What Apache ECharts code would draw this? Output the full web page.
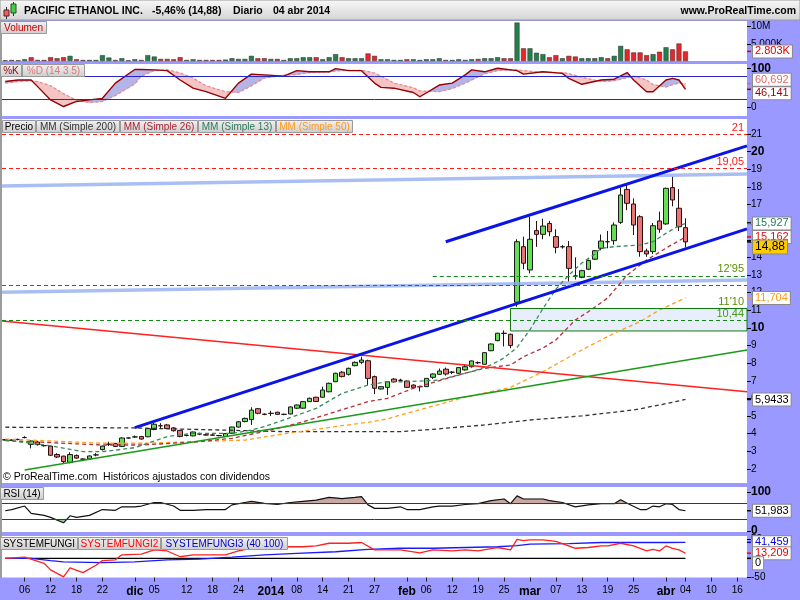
<!DOCTYPE html>
<html><head><meta charset="utf-8">
<script src="https://cdn.jsdelivr.net/npm/echarts@6.0.0/dist/echarts.min.js"></script>
<style>html,body{margin:0;padding:0;background:#9999ff;}#chart{width:800px;height:600px;}</style>
</head><body><div id="chart"></div>
<script>
// ---------------- DATA ----------------
const dates = [
'2013-11-01','2013-11-04','2013-11-05','2013-11-06','2013-11-07','2013-11-08','2013-11-11','2013-11-12','2013-11-13','2013-11-14','2013-11-15','2013-11-18','2013-11-19','2013-11-20','2013-11-21','2013-11-22','2013-11-25','2013-11-26','2013-11-27','2013-11-29',
'2013-12-02','2013-12-03','2013-12-04','2013-12-05','2013-12-06','2013-12-09','2013-12-10','2013-12-11','2013-12-12','2013-12-13','2013-12-16','2013-12-17','2013-12-18','2013-12-19','2013-12-20','2013-12-23','2013-12-24','2013-12-26','2013-12-27','2013-12-30','2013-12-31',
'2014-01-02','2014-01-03','2014-01-06','2014-01-07','2014-01-08','2014-01-09','2014-01-10','2014-01-13','2014-01-14','2014-01-15','2014-01-16','2014-01-17','2014-01-21','2014-01-22','2014-01-23','2014-01-24','2014-01-27','2014-01-28','2014-01-29','2014-01-30','2014-01-31',
'2014-02-03','2014-02-04','2014-02-05','2014-02-06','2014-02-07','2014-02-10','2014-02-11','2014-02-12','2014-02-13','2014-02-14','2014-02-18','2014-02-19','2014-02-20','2014-02-21','2014-02-24','2014-02-25','2014-02-26','2014-02-27','2014-02-28',
'2014-03-03','2014-03-04','2014-03-05','2014-03-06','2014-03-07','2014-03-10','2014-03-11','2014-03-12','2014-03-13','2014-03-14','2014-03-17','2014-03-18','2014-03-19','2014-03-20','2014-03-21','2014-03-24','2014-03-25','2014-03-26','2014-03-27','2014-03-28','2014-03-31',
'2014-04-01','2014-04-02','2014-04-03','2014-04-04','2014-04-07','2014-04-08','2014-04-09','2014-04-10','2014-04-11','2014-04-14','2014-04-15','2014-04-16','2014-04-17'];

const open = [3.66,3.63,3.67,3.78,3.40,3.53,3.33,3.30,2.82,2.73,2.38,2.77,2.56,2.57,2.80,3.10,3.40,3.45,3.28,3.76,
3.82,3.84,3.83,4.24,4.45,4.50,4.33,4.19,3.90,3.88,3.98,3.94,3.93,3.90,3.84,4.03,4.38,4.69,4.80,5.42,5.11,
5.15,5.22,5.10,5.12,5.45,5.45,5.82,6.07,6.07,6.38,6.95,7.49,7.37,7.86,8.05,8.14,7.24,6.54,6.63,7.10,7.03,
6.99,6.76,6.67,6.67,7.20,7.37,7.66,7.49,7.43,7.62,7.80,8.03,7.94,8.71,9.28,9.70,9.64,11.46,14.61,
13.29,15.52,15.31,15.93,15.18,14.60,14.61,12.95,12.87,13.33,13.90,14.52,14.89,14.95,15.99,17.86,17.03,16.31,14.37,14.33,16.07,
15.90,17.96,16.79,15.69];
const close = [3.65,3.64,3.68,3.79,3.59,3.38,3.32,2.78,2.68,2.42,2.82,2.62,2.56,2.74,2.80,3.30,3.41,3.28,3.76,3.76,
3.82,3.70,4.29,4.54,4.45,4.29,4.17,3.85,3.90,4.10,3.99,3.93,3.92,3.89,4.01,4.38,4.68,4.87,5.34,5.16,5.10,
5.16,5.10,5.10,5.52,5.63,5.82,6.01,5.83,6.48,6.86,7.43,7.24,7.71,8.05,8.18,7.14,6.58,6.67,6.95,6.95,7.03,
6.63,6.63,6.67,7.14,7.39,7.56,7.39,7.49,7.75,7.80,8.13,8.03,8.60,9.09,9.70,9.69,9.00,14.89,13.67,
15.03,15.31,15.78,15.46,14.57,14.61,13.38,12.95,13.25,13.82,14.38,14.93,14.89,15.84,17.54,17.07,15.84,14.33,14.20,15.80,15.60,
17.92,17.26,15.74,14.88];
const low = [3.62,3.60,3.63,3.74,3.17,3.33,3.27,2.75,2.62,2.33,2.32,2.58,2.52,2.55,2.72,3.05,3.30,3.25,3.26,3.72,
3.76,3.66,3.80,4.20,4.32,4.27,4.12,3.80,3.85,3.85,3.92,3.90,3.88,3.86,3.82,4.00,4.35,4.65,4.50,5.10,5.05,
5.00,5.07,5.05,5.10,5.40,5.42,5.80,5.80,6.05,6.35,6.93,7.20,7.30,7.83,7.95,6.76,6.25,6.50,6.20,6.90,6.95,
6.60,6.55,6.40,6.65,7.10,7.35,7.30,7.38,7.40,7.58,7.75,7.95,7.92,8.68,9.25,8.95,8.85,11.20,13.33,
13.10,14.60,15.03,15.20,14.24,14.50,12.62,12.75,12.82,13.28,13.85,14.40,14.52,14.72,15.90,16.68,15.27,14.04,14.04,14.20,15.40,
15.85,16.90,15.50,14.57];
const high = [3.70,3.68,3.72,3.86,3.62,3.60,3.38,3.32,2.90,2.75,2.95,2.82,2.60,2.77,2.90,3.33,3.55,3.48,3.80,3.80,
3.90,3.88,4.31,4.65,4.60,4.56,4.38,4.22,3.95,4.12,4.06,3.97,3.97,3.93,4.04,4.40,4.72,4.92,5.50,5.45,5.15,
5.30,5.25,5.14,5.55,5.66,5.85,6.05,6.10,6.67,6.90,7.46,7.55,7.75,8.10,8.37,8.20,7.30,6.70,6.98,7.15,7.12,
7.02,6.80,6.72,7.16,7.42,7.70,7.75,7.55,7.78,7.95,8.15,8.10,8.62,9.12,9.73,9.86,9.68,15.03,15.18,
16.31,16.07,16.20,16.07,15.60,14.70,14.93,14.00,13.30,13.88,14.42,15.30,15.50,15.99,17.96,18.11,17.35,16.40,14.50,15.95,16.60,
17.96,18.58,17.87,16.22];
// volume in millions
const volume = [0.2,0.3,0.2,0.5,1.1,0.3,0.3,1.1,0.8,1.1,1.5,0.5,0.3,0.3,0.3,1.7,1.0,0.3,0.8,0.2,
0.5,0.3,1.7,1.3,0.6,0.6,0.5,1.1,0.3,0.5,0.3,0.3,0.3,0.3,0.4,0.8,0.6,0.6,1.5,0.8,0.8,
0.6,0.6,0.3,0.8,0.8,1.1,1.1,1.1,0.5,1.1,2.0,1.1,0.8,0.8,0.8,2.2,1.5,0.5,0.5,0.3,0.3,
0.5,0.5,0.3,0.5,0.5,0.8,0.3,0.3,0.5,0.3,0.5,0.6,0.8,0.8,1.1,0.8,0.8,11.2,3.7,
3.7,2.4,2.0,1.1,1.7,0.8,1.5,1.3,0.8,0.8,0.8,1.1,0.8,1.5,4.4,3.4,2.5,2.5,1.7,2.0,2.7,
4.0,3.4,5.1,2.803];

// Sparse readings: x = trading-day index counted from 6 Nov 2013 (=0)
const ma200X = [-3,17,40,58,63,71,78,86,94,98,102];
const ma200V = [4.37,4.33,4.12,4.12,4.25,4.50,4.78,5.01,5.35,5.63,5.9433];
const ma26X = [-3,12,18,27,32,38,43,48,53,56,60,67,71,75,77,80,82,85,87,90,93,96,99,102];
const ma26V = [3.61,3.36,3.36,3.55,3.74,4.21,4.68,5.25,5.82,6.01,6.58,7.33,7.71,7.90,8.37,8.86,9.32,10.45,10.92,11.70,13.0,13.85,14.53,15.162];
const ma13X = [-3,4,9,12,17,22,26,32,35,37,40,45,49,53,56,59,64,69,72,74,76,78,80,82,84,86,88,89,91,95,97,99,101,102];
const ma13V = [3.64,3.32,2.98,2.98,3.21,3.84,4.02,4.02,4.21,4.40,4.78,5.44,6.29,6.76,6.95,6.95,7.05,7.52,7.9,8.3,8.9,9.9,11.1,12.2,13.0,13.68,14.2,14.52,14.61,14.71,14.89,15.37,15.8,15.927];
const ma50X = [-3,1,12,19,26,34,40,46,53,56,58,68,75,80,86,91,95,98,102];
const ma50V = [3.70,3.64,3.46,3.46,3.55,3.64,3.99,4.31,4.65,4.84,5.06,6.07,6.63,7.52,8.75,9.70,10.36,11.02,11.704];

const stochX = [-3,-1,1,2,4,6,8,10,12,14,17,18,20,22,24,26,28,31,33,35,37,40,42,44,47,48,50,52,54,55,57,60,61,64,66,68,69,71,73,76,77,80,83,84,86,89,91,93,94,96,97,99,100,101,102];
const stochK = [66,70,70,53,19,2,15,19,23,62,97,97,96,94,70,49,40,23,62,85,83,80,94,91,91,99,94,94,62,51,49,38,27,57,62,83,96,91,100,94,85,91,87,74,59,70,72,89,70,40,40,70,74,70,46.141];
const stochD = [62,66,68,66,55,35,18,12,15,30,60,80,94,96,88,75,55,40,38,55,75,82,84,89,91,93,95,95,88,80,62,50,42,40,48,62,70,86,94,96,94,90,89,86,77,66,68,76,80,70,58,52,58,62,60.692];

const rsiX = [-3,-2,0,1,3,4,6,7,8,10,12,14,15,17,18,20,21,23,24,26,28,31,32,34,35,37,39,41,43,45,47,49,51,52,53,54,56,58,59,61,63,64,66,68,70,72,74,75,76,77,78,80,81,83,85,87,89,91,92,93,95,96,97,98,99,100,101,102];
const rsiV = [52,55,64,45,40,35,21,39,35,40,55,53,62,62,64,73,73,64,53,53,55,55,67,73,76,71,68,73,76,79,86,83,86,88,67,58,58,62,55,55,62,64,64,68,70,78,82,70,90,82,82,82,78,73,62,67,70,70,80,71,55,55,64,62,70,68,55,51.983];

const fungi1X = [-3,102];
const fungi1V = [0,0];
const fungi2X = [-3,0,3,4,6,7,9,11,12,14,15,18,20,22,24,26,31,33,35,37,40,43,45,47,50,52,54,58,61,63,66,68,70,72,73,75,76,77,78,80,82,83,85,87,89,90,92,94,96,97,98,99,100,101,102];
const fungi2V = [0,3,-13,-30,-48,-25,-37,-18,-6,-4,9,11,22,19,4,9,9,19,26,23,30,30,32,39,39,41,22,22,14,22,19,22,19,25,28,22,49,46,48,48,44,38,26,28,32,32,39,32,19,23,19,32,26,22,13.209];
const fungi3X = [-3,1,4,6,12,17,22,27,32,37,42,48,53,58,63,68,73,76,78,84,89,94,99,102];
const fungi3V = [0,0,-6,-9,-11,-9,-4,-2,3,9,13,17,23,26,26,28,30,33,37,38,41,41,41,41.459];

// drawn lines: [dayIndex, price]
const channelLow = [[17,4.35],[111.5,15.62]];
const channelHigh = [[65,14.89],[111.5,20.33]];
const redTrend = [[-3.5,10.40],[111.5,6.38]];
const greenTrend = [[0,1.94],[111.5,8.75]];
const paleLine1 = [[-3.5,18.05],[111.5,18.73]];
const paleLine2 = [[-3.5,12.02],[111.5,12.72]];
const levelValues = [21, 19.05, 12.95, 12.44, 10.44, 11.10];
const levelTexts = ['21','19,05',"12'95",'','10,44',"11'10"];
const levelStarts = [-3.5,-3.5,63,-3.5,-3.5,75];
const zone = {from:75, top:11.10, bottom:9.83};
const rsiBands = [30, 70];
const stochBands = [20, 80];

const priceTicks = [2,3,4,5,6,7,8,9,10,11,12,13,14,15,16,17,18,19,20,21];
const volTicks = [5,10];
const xTickLabels = [['2013-11-06','06'],['2013-11-12','12'],['2013-11-18','18'],['2013-11-22','22'],['2013-12-02','dic'],['2013-12-05','05'],['2013-12-12','12'],['2013-12-18','18'],['2013-12-24','24'],['2014-01-02','2014'],['2014-01-08','08'],['2014-01-14','14'],['2014-01-21','21'],['2014-01-27','27'],['2014-02-03','feb'],['2014-02-06','06'],['2014-02-12','12'],['2014-02-19','19'],['2014-02-25','25'],['2014-03-03','mar'],['2014-03-07','07'],['2014-03-13','13'],['2014-03-19','19'],['2014-03-25','25'],['2014-04-01','abr'],['2014-04-04','04'],['2014-04-10','10'],['2014-04-16','16']];
const monthLabels = ['dic','2014','feb','mar','abr'];

// ---------------- CHART ----------------
const FONT = "'Liberation Sans', Arial, sans-serif";
const N = dates.length;
const DAY0 = dates.indexOf('2013-11-06');
const XMIN = -DAY0 - 0.5, XMAX = N - DAY0 - 0.5;
const labelMap = Object.fromEntries(xTickLabels);
const pairs = (xs, vs) => xs.map((x, j) => [x, vs[j]]);
const comma = v => String(v).replace('.', ',');

const chart = echarts.init(document.getElementById('chart'), null, {renderer: 'canvas'});
const gridBase = {left: 2, right: 53, show: true, backgroundColor: '#ffffff', borderWidth: 0};
const grids = [
  Object.assign({top: 21, height: 40}, gridBase),
  Object.assign({top: 64, height: 52}, gridBase),
  Object.assign({top: 119, height: 364}, gridBase),
  Object.assign({top: 487, height: 45}, gridBase),
  Object.assign({top: 536, height: 41.6}, gridBase)
];
const valX = gi => ({type: 'value', gridIndex: gi, min: XMIN, max: XMAX, show: false, axisLine: {onZero: false}});
function yAx(gi, min, max, ticks, fmt) {
  return {type: 'value', gridIndex: gi, position: 'right', min: min, max: max,
    splitLine: {show: false}, axisLine: {show: false, onZero: false},
    axisTick: {show: true, customValues: ticks, length: 4, lineStyle: {color: '#000', width: 1}},
    axisLabel: {customValues: ticks, margin: 4, color: '#000', fontFamily: FONT, fontSize: 10, formatter: fmt,
      rich: {b: {fontFamily: FONT, fontSize: 12, fontWeight: 'bold', color: '#000'}}}};
}
const lineS = (name, xi, yi, data, color, width, type, extra) => Object.assign({
  name: name, type: 'line', xAxisIndex: xi, yAxisIndex: yi, data: data, symbol: 'none', silent: true,
  lineStyle: {color: color, width: width, type: type || 'solid'}, animation: false}, extra || {});

// band fill between two sampled series a and b (same x samples); colour by sign of a-b
function bandSeries(xi, yi, xs, a, b, posColor, negColor) {
  return {type: 'custom', xAxisIndex: xi, yAxisIndex: yi, silent: true, animation: false,
    data: xs.slice(0, -1).map((x, j) => [x, a[j], j]),
    encode: {x: 0, y: 1},
    renderItem: (params, api) => {
      const j = api.value(2);
      const x0 = xs[j], x1 = xs[j + 1], a0 = a[j], a1 = a[j + 1], b0 = b[j], b1 = b[j + 1];
      const d0 = a0 - b0, d1 = a1 - b1;
      const parts = [];
      if (d0 * d1 < 0) {
        const t = d0 / (d0 - d1), xc = x0 + (x1 - x0) * t, yc = a0 + (a1 - a0) * t;
        parts.push([[[x0, a0], [xc, yc], [x0, b0]], d0 > 0]);
        parts.push([[[xc, yc], [x1, a1], [x1, b1]], d1 > 0]);
      } else {
        parts.push([[[x0, a0], [x1, a1], [x1, b1], [x0, b0]], (d0 + d1) > 0]);
      }
      const children = [];
      parts.forEach(p => {
        const col = p[1] ? posColor : negColor;
        if (!col) return;
        children.push({type: 'polygon', shape: {points: p[0].map(pt => api.coord(pt))},
          style: {fill: col, stroke: col, lineWidth: 0.6}});
      });
      return {type: 'group', children: children};
    }};
}

const candleData = open.map((o, k) => [o, close[k], low[k], high[k]]);
const volData = volume.map((v, k) => ({value: v, itemStyle: {color: (k > 0 && close[k] < close[k - 1]) ? '#e8262a' : '#23804a'}}));
const rsiHiRef = rsiX.map(() => rsiBands[1]);
const rsiLoRef = rsiX.map(() => rsiBands[0]);

const levelColors = ['#ff1a1a', '#ff1a1a', '#118811', '#118811', '#118811', '#117711'];
const levelLabelColors = ['#ff1a1a', '#ff1a1a', '#5c8f00', '', '#4a9a1a', '#5c8f00'];
const levelTypes = [[4, 3], [4, 3], [4, 3], [4, 3], [4, 3], 'solid'];

const option = {
  animation: false,
  backgroundColor: '#9999ff',
  grid: grids,
  xAxis: [
    {type: 'category', gridIndex: 0, data: dates, show: false},
    {type: 'category', gridIndex: 2, data: dates, show: false},
    valX(1), valX(2), valX(3), valX(4),
    {type: 'category', gridIndex: 4, data: dates, position: 'bottom',
      axisLine: {show: false, onZero: false}, splitLine: {show: false},
      axisTick: {show: true, alignWithLabel: true, length: 4, interval: (i, v) => labelMap.hasOwnProperty(v), lineStyle: {color: '#222'}},
      axisLabel: {interval: (i, v) => labelMap.hasOwnProperty(v), margin: 8, color: '#000', fontFamily: FONT, fontSize: 10,
        formatter: v => monthLabels.includes(labelMap[v]) ? '{b|' + labelMap[v] + '}' : (labelMap[v] || ''),
        rich: {b: {fontFamily: FONT, fontSize: 12, fontWeight: 'bold', color: '#000'}}}}
  ],
  yAxis: [
    yAx(0, 0, 11.66, volTicks, v => v >= 10 ? v + 'M' : (v * 1000).toLocaleString('de-DE') + 'K'),
    yAx(1, -22.3, 111.0, [0, 100], v => v === 100 ? '{b|100}' : String(v)),
    yAx(2, 1.2059, 21.852, priceTicks, v => (v === 10 || v === 20) ? '{b|' + v + '}' : String(v)),
    yAx(3, -2.56, 112.8, [0, 100], v => '{b|' + v + '}'),
    yAx(4, -50, 57.8, [-50, 50], v => String(v))
  ],
  series: [
    // volume
    {name: 'Volumen', type: 'bar', xAxisIndex: 0, yAxisIndex: 0, data: volData, barWidth: 5, silent: true,
      itemStyle: {borderColor: '#2a2a2a', borderWidth: 0.5}},
    // stochastic
    bandSeries(2, 1, stochX, stochK, stochD, '#b4b4e6', '#f5c4c4'),
    lineS('%D', 2, 1, pairs(stochX, stochD), '#e38a8a', 1.2, [3, 2]),
    lineS('%K', 2, 1, pairs(stochX, stochK), '#990000', 1.4, 'solid', {
      markLine: {silent: true, symbol: 'none', animation: false, label: {show: false},
        lineStyle: {color: '#2626c8', width: 1, type: 'solid'}, data: stochBands.map(b => ({yAxis: b}))}}),
    // price: zone + levels
    lineS('pale1', 3, 2, paleLine1, 'rgba(140,170,240,0.75)', 3.5, 'solid', {
      markArea: {silent: true, itemStyle: {color: '#e8eefc', borderColor: '#117711', borderWidth: 1},
        data: [[{coord: [zone.from, zone.top]}, {coord: [XMAX, zone.bottom]}]]},
      markLine: {silent: true, symbol: 'none', animation: false,
        data: levelValues.map((v, j) => [
          {coord: [levelStarts[j], v], lineStyle: {color: levelColors[j], width: 1, type: levelTypes[j]},
            label: {show: levelTexts[j] !== '', formatter: levelTexts[j], position: 'insideEndTop', distance: [3, 1],
              color: levelLabelColors[j], fontFamily: FONT, fontSize: 11}},
          {coord: [XMAX, v]}])}}),
    lineS('pale2', 3, 2, paleLine2, 'rgba(140,170,240,0.75)', 3.5),
    lineS('MM (Simple 200)', 3, 2, pairs(ma200X, ma200V), '#333333', 1.3, [4, 3]),
    lineS('MM (Simple 50)', 3, 2, pairs(ma50X, ma50V), '#ff9f1a', 1.3, [4, 3]),
    lineS('MM (Simple 26)', 3, 2, pairs(ma26X, ma26V), '#b0303a', 1.3, [4, 3]),
    lineS('MM (Simple 13)', 3, 2, pairs(ma13X, ma13V), '#3a8a5e', 1.3, [4, 3]),
    lineS('redTrend', 3, 2, redTrend, '#ff2020', 1.5),
    lineS('greenTrend', 3, 2, greenTrend, '#1a9a1a', 1.5),
    lineS('channelLow', 3, 2, channelLow, '#0a14e6', 3),
    lineS('channelHigh', 3, 2, channelHigh, '#0a14e6', 3),
    {name: 'Precio', type: 'candlestick', xAxisIndex: 1, yAxisIndex: 2, data: candleData, barWidth: 5, silent: true,
      itemStyle: {color: '#66dd55', color0: '#e87575', borderColor: '#1a1a1a', borderColor0: '#2a1010', borderWidth: 1}},
    // RSI
    bandSeries(4, 3, rsiX, rsiV, rsiHiRef, '#c9a8a4', null),
    bandSeries(4, 3, rsiX, rsiV, rsiLoRef, null, '#9fcf9f'),
    lineS('RSI', 4, 3, pairs(rsiX, rsiV), '#111111', 1.2, 'solid', {
      markLine: {silent: true, symbol: 'none', animation: false, label: {show: false},
        lineStyle: {color: '#2626c8', width: 1, type: 'solid'}, data: rsiBands.map(b => ({yAxis: b}))}}),
    // SYSTEMFUNGI
    lineS('SYSTEMFUNGI', 5, 4, pairs(fungi1X, fungi1V), '#000000', 1.3),
    lineS('SYSTEMFUNGI3', 5, 4, pairs(fungi3X, fungi3V), '#1a1aff', 1.3),
    lineS('SYSTEMFUNGI2', 5, 4, pairs(fungi2X, fungi2V), '#ff2020', 1.3)
  ]
};
chart.setOption(option);

// ---------------- GRAPHIC OVERLAYS ----------------
const py = (yi, v) => chart.convertToPixel({yAxisIndex: yi}, v);
const gfx = [];
const grad = (a, b) => ({type: 'linear', x: 0, y: 0, x2: 0, y2: 1, colorStops: [{offset: 0, color: a}, {offset: 1, color: b}]});
// title bar
gfx.push({type: 'rect', shape: {x: 0, y: 0, width: 800, height: 20}, style: {fill: grad('#f8f8f8', '#d4d4d4'), stroke: '#9a9a9a', lineWidth: 1}, z: 100, silent: true});
gfx.push({type: 'rect', shape: {x: 0, y: 20, width: 2, height: 558}, style: {fill: '#9c9c9c'}, z: 100, silent: true});
// candle icon
gfx.push({type: 'line', shape: {x1: 6.5, y1: 7, x2: 6.5, y2: 19}, style: {stroke: '#333', lineWidth: 1}, z: 101});
gfx.push({type: 'rect', shape: {x: 4, y: 10, width: 5, height: 6}, style: {fill: '#e86060', stroke: '#552222', lineWidth: 1}, z: 102});
gfx.push({type: 'line', shape: {x1: 13.5, y1: 2, x2: 13.5, y2: 16}, style: {stroke: '#333', lineWidth: 1}, z: 101});
gfx.push({type: 'rect', shape: {x: 11, y: 4, width: 5, height: 9}, style: {fill: '#44cc44', stroke: '#225522', lineWidth: 1}, z: 102});
const last = close.length - 1;
const pct = ((close[last] / close[last - 1] - 1) * 100).toFixed(2).replace('.', ',');
const titleTxt = [[24, 'PACIFIC ETHANOL INC.'], [152, pct + '% (' + comma(close[last]) + ')'], [233, 'Diario'], [273, '04 abr 2014']];
titleTxt.forEach(t => gfx.push({type: 'text', x: t[0], y: 11, style: {text: t[1], fill: '#000', font: 'bold 10.5px ' + FONT, verticalAlign: 'middle'}, z: 103}));
gfx.push({type: 'text', x: 796, y: 11, style: {text: 'www.ProRealTime.com', fill: '#000', font: 'bold 10.5px ' + FONT, verticalAlign: 'middle', align: 'right'}, z: 103});

// header buttons
function hdr(x, y, w, h, text, color) {
  gfx.push({type: 'rect', shape: {x: x + 0.5, y: y + 0.5, width: w - 1, height: h - 1}, style: {fill: grad('#f2f2f2', '#cdcdcd'), stroke: '#9a9a9a', lineWidth: 1}, z: 110});
  gfx.push({type: 'text', x: x + w / 2, y: y + h / 2 + 0.5, style: {text: text, fill: color, font: '10px ' + FONT, align: 'center', verticalAlign: 'middle'}, z: 111});
}
hdr(0, 21, 47, 13, 'Volumen', '#cc0000');
hdr(0, 64, 22, 13, '%K', '#990000');
hdr(22, 64, 63, 13, '%D (14 3 5)', '#e07878');
hdr(2, 120, 34, 13, 'Precio', '#000000');
hdr(36, 120, 84, 13, 'MM (Simple 200)', '#333333');
hdr(120, 120, 78, 13, 'MM (Simple 26)', '#aa2233');
hdr(198, 120, 78, 13, 'MM (Simple 13)', '#2a7a5a');
hdr(276, 120, 77, 13, 'MM (Simple 50)', '#ff9a1a');
hdr(0, 487, 44, 13, 'RSI (14)', '#000000');
hdr(0, 537, 78, 13, 'SYSTEMFUNGI', '#000000');
hdr(78, 537, 83, 13, 'SYSTEMFUNGI2', '#ff0000');
hdr(161, 537, 127, 13, 'SYSTEMFUNGI3 (40 100)', '#0000cc');

// copyright
gfx.push({type: 'text', x: 3, y: 477, style: {text: '\u00A9 ProRealTime.com  Hist\u00F3ricos ajustados con dividendos', fill: '#000', font: '10.5px ' + FONT, verticalAlign: 'middle'}, z: 105});

// value boxes on the right axis
function vbox(yi, v, text, color, bg, dy, bold, size) {
  const y = py(yi, v);
  gfx.push({type: 'line', shape: {x1: 747, y1: y, x2: 751, y2: y}, style: {stroke: color, lineWidth: 1.5}, z: 120});
  gfx.push({type: 'text', x: 753, y: y + (dy || 0), style: {text: text, fill: color, font: (bold ? 'bold ' : '') + (size || 11) + 'px ' + FONT,
    verticalAlign: 'middle', backgroundColor: bg, borderColor: '#8a8a8a', borderWidth: 1, padding: [1, 2, 0, 2]}, z: 121});
}
const lastOf = a => a[a.length - 1];
vbox(0, lastOf(volume), (Math.round(lastOf(volume) * 1000)).toLocaleString('de-DE') + 'K', '#e00000', '#ffffff', 0);
vbox(1, lastOf(stochD), comma(lastOf(stochD)), '#e06a6a', '#ffffff', -4);
vbox(1, lastOf(stochK), comma(lastOf(stochK)), '#990000', '#ffffff', 4);
vbox(2, lastOf(ma13V), comma(lastOf(ma13V)), '#2a7a5a', '#ffffff', 0);
vbox(2, lastOf(ma26V), comma(lastOf(ma26V)), '#dd1111', '#ffffff', 0);
vbox(2, close[last], comma(close[last]), '#000000', '#ffcc00', 5, false, 12);
vbox(2, lastOf(ma50V), comma(lastOf(ma50V)), '#ff9a1a', '#ffffff', 0);
vbox(2, lastOf(ma200V), comma(lastOf(ma200V)), '#000000', '#ffffff', 0);
vbox(3, lastOf(rsiV), comma(lastOf(rsiV)), '#000000', '#ffffff', 0);
vbox(4, lastOf(fungi3V), comma(lastOf(fungi3V)), '#0000dd', '#ffffff', 0);
vbox(4, lastOf(fungi2V), comma(lastOf(fungi2V)), '#ee0000', '#ffffff', 0);
vbox(4, lastOf(fungi1V), comma(lastOf(fungi1V)), '#000000', '#ffffff', 5);

chart.setOption({graphic: gfx});
</script>
</body></html>
